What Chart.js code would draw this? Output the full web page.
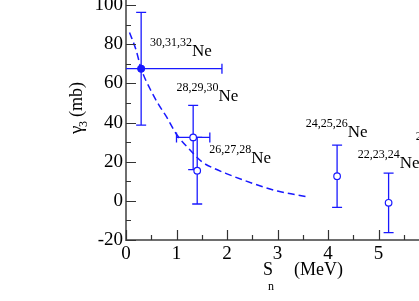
<!DOCTYPE html>
<html lang="en">
<head>
  <meta charset="UTF-8" />
  <title>Gamma3 vs Sn</title>
  <script src="https://cdn.jsdelivr.net/npm/chart.js"></script>
  <style>
    html, body {
      margin: 0;
      padding: 0;
      background: #fff;
      overflow: hidden;
    }

    /* shifted up so the plot area touches the top edge like the reference */
    #chartContainer {
      width: 490px;
      height: 306px;
      margin-top: -5px;
    }
  </style>
</head>
<body>
  <div id="chartContainer">
    <canvas id="gammaChart"></canvas>
  </div>

  <script>
    // measured point with filled symbol (Sn in MeV, gamma3 in mb)
    const filledSn = [0.3];
    const filledGamma = [67.5];
    const filledSnErr = [1.6];
    const filledGammaErr = [28.8];

    // open symbols
    const openSn = [1.33, 1.41, 4.18, 5.2];
    const openGamma = [32.4, 15.4, 12.6, -1.0];
    const openSnErr = [0.33, 0, 0, 0];
    const openGammaErr = [16.4, 17.0, 15.9, 15.2];

    // dashed curve
    const curveSn = [0.07, 0.2, 0.3, 0.48, 0.65, 0.8, 1.0, 1.25, 1.5, 1.75, 2.0, 2.5, 3.0, 3.6];
    const curveGamma = [86, 77, 67.5, 57, 49, 43, 34, 26.5, 20, 16.5, 13.8, 9, 5, 2];

    // isotope labels
    const isoMass = ['30,31,32', '28,29,30', '26,27,28', '24,25,26', '22,23,24', '20,21,22'];
    const isoSn = [0.475, 1.0, 1.65, 3.56, 4.59, 5.74];
    const isoGamma = [73.9, 51.1, 19.5, 32.4, 16.6, 25.9];

    // tick values
    const xTicks = [0, 0.5, 1, 1.5, 2, 2.5, 3, 3.5, 4, 4.5, 5, 5.5, 6, 6.5, 7];
    const yTicks = [-20, -10, 0, 10, 20, 30, 40, 50, 60, 70, 80, 90, 100];

    const blue = 'rgb(25,25,255)';
    const serif = "'Liberation Serif', 'DejaVu Serif', serif";
    const shift = 5; // canvas offset from the container's negative margin

    const toPoints = (xs, ys) => xs.map((v, i) => ({ x: v, y: ys[i] }));

    function drawBars(ctx, x, y, xs, ys, xe, ye) {
      xs.forEach((v, i) => {
        const px = x.getPixelForValue(v);
        const py = y.getPixelForValue(ys[i]);
        if (ye[i]) {
          const t = y.getPixelForValue(ys[i] + ye[i]);
          const b = y.getPixelForValue(ys[i] - ye[i]);
          ctx.beginPath();
          ctx.moveTo(px, t); ctx.lineTo(px, b);
          ctx.moveTo(px - 5, t); ctx.lineTo(px + 5, t);
          ctx.moveTo(px - 5, b); ctx.lineTo(px + 5, b);
          ctx.stroke();
        }
        if (xe[i]) {
          const l = x.getPixelForValue(v - xe[i]);
          const r = x.getPixelForValue(v + xe[i]);
          ctx.beginPath();
          ctx.moveTo(l, py); ctx.lineTo(r, py);
          ctx.moveTo(l, py - 5); ctx.lineTo(l, py + 5);
          ctx.moveTo(r, py - 5); ctx.lineTo(r, py + 5);
          ctx.stroke();
        }
      });
    }

    const decorPlugin = {
      id: 'decor',
      beforeDatasetsDraw(chart) {
        const { ctx, chartArea: a, scales: { x, y } } = chart;
        ctx.save();
        ctx.beginPath();
        ctx.rect(a.left, a.top, a.right - a.left, a.bottom - a.top);
        ctx.clip();
        ctx.strokeStyle = blue;
        ctx.lineWidth = 1.3;
        drawBars(ctx, x, y, filledSn, filledGamma, filledSnErr, filledGammaErr);
        drawBars(ctx, x, y, openSn, openGamma, openSnErr, openGammaErr);
        ctx.restore();
      },
      afterDraw(chart) {
        const { ctx, chartArea: a, scales: { x, y } } = chart;
        ctx.save();

        // inward tick marks
        ctx.strokeStyle = '#333';
        ctx.lineWidth = 1.2;
        ctx.beginPath();
        x.ticks.forEach(t => {
          const px = Math.round(x.getPixelForValue(t.value)) + 0.5;
          const len = Number.isInteger(t.value) ? 10 : 5;
          ctx.moveTo(px, a.bottom); ctx.lineTo(px, a.bottom - len);
        });
        y.ticks.forEach(t => {
          const py = Math.round(y.getPixelForValue(t.value)) + 0.5;
          const len = t.value % 20 === 0 ? 10 : 5;
          ctx.moveTo(a.left, py); ctx.lineTo(a.left + len, py);
        });
        ctx.stroke();

        // isotope labels
        ctx.fillStyle = '#000';
        ctx.textBaseline = 'alphabetic';
        ctx.textAlign = 'left';
        isoMass.forEach((m, i) => {
          const px = x.getPixelForValue(isoSn[i]);
          const py = y.getPixelForValue(isoGamma[i]);
          ctx.font = '12px ' + serif;
          ctx.fillText(m, px, py - 10);
          const w = ctx.measureText(m).width;
          ctx.font = '17px ' + serif;
          ctx.fillText('Ne', px + w, py);
        });

        // x title: S_n (MeV)
        ctx.font = '18px ' + serif;
        ctx.fillText('S', 263, 275 + shift);
        ctx.font = '12px ' + serif;
        ctx.fillText('n', 268, 290 + shift);
        ctx.font = '18px ' + serif;
        ctx.fillText('(MeV)', 294, 275 + shift);

        // y title: gamma_3 (mb)
        ctx.translate(82, 0);
        ctx.rotate(-Math.PI / 2);
        ctx.font = '19px ' + serif;
        ctx.fillText('\u03b3', -134 - shift, 0);
        ctx.font = '12px ' + serif;
        ctx.fillText('3', -127 - shift, 5);
        ctx.font = '18px ' + serif;
        ctx.fillText('(mb)', -117 - shift, 0);

        ctx.restore();
      }
    };

    const ctx = document.getElementById('gammaChart').getContext('2d');
    new Chart(ctx, {
      type: 'scatter',
      data: {
        datasets: [
          {
            label: 'curve',
            type: 'line',
            data: toPoints(curveSn, curveGamma),
            borderColor: blue,
            borderWidth: 1.5,
            borderDash: [7, 4],
            pointRadius: 0,
            fill: false,
            cubicInterpolationMode: 'monotone'
          },
          {
            label: 'filled',
            data: toPoints(filledSn, filledGamma),
            backgroundColor: blue,
            borderColor: blue,
            pointRadius: 3.6,
            borderWidth: 1
          },
          {
            label: 'open',
            data: toPoints(openSn, openGamma),
            backgroundColor: '#fff',
            borderColor: blue,
            pointRadius: 3.3,
            borderWidth: 1.2
          }
        ]
      },
      options: {
        responsive: true,
        maintainAspectRatio: false,
        animation: false,
        layout: { padding: { left: 0, top: 0, right: 10.5, bottom: 0 } },
        plugins: {
          legend: { display: false },
          tooltip: { enabled: false }
        },
        scales: {
          x: {
            type: 'linear',
            min: 0,
            max: 7,
            grid: { display: false, drawTicks: false },
            border: { display: true, color: '#6e6e6e', width: 2 },
            afterBuildTicks: s => { s.ticks = xTicks.map(v => ({ value: v })); },
            afterFit: s => {
              s.height = 61;
              s.paddingLeft = 0;
              s.paddingRight = 0;
            },
            ticks: {
              color: '#000',
              padding: 3,
              maxRotation: 0,
              autoSkip: false,
              font: { family: serif, size: 19 },
              callback: v => Number.isInteger(v) ? String(v) : ''
            }
          },
          y: {
            type: 'linear',
            min: -20,
            max: 102.5,
            grid: { display: false, drawTicks: false },
            border: { display: true, color: '#6e6e6e', width: 2 },
            afterBuildTicks: s => { s.ticks = yTicks.map(v => ({ value: v })); },
            afterFit: s => {
              s.width = 126;
              s.paddingTop = 0;
              s.paddingBottom = 0;
            },
            ticks: {
              color: '#000',
              padding: 3,
              autoSkip: false,
              font: { family: serif, size: 19 },
              callback: v => v % 20 === 0 ? String(v) : ''
            }
          }
        }
      },
      plugins: [decorPlugin]
    });
  </script>
</body>
</html>
